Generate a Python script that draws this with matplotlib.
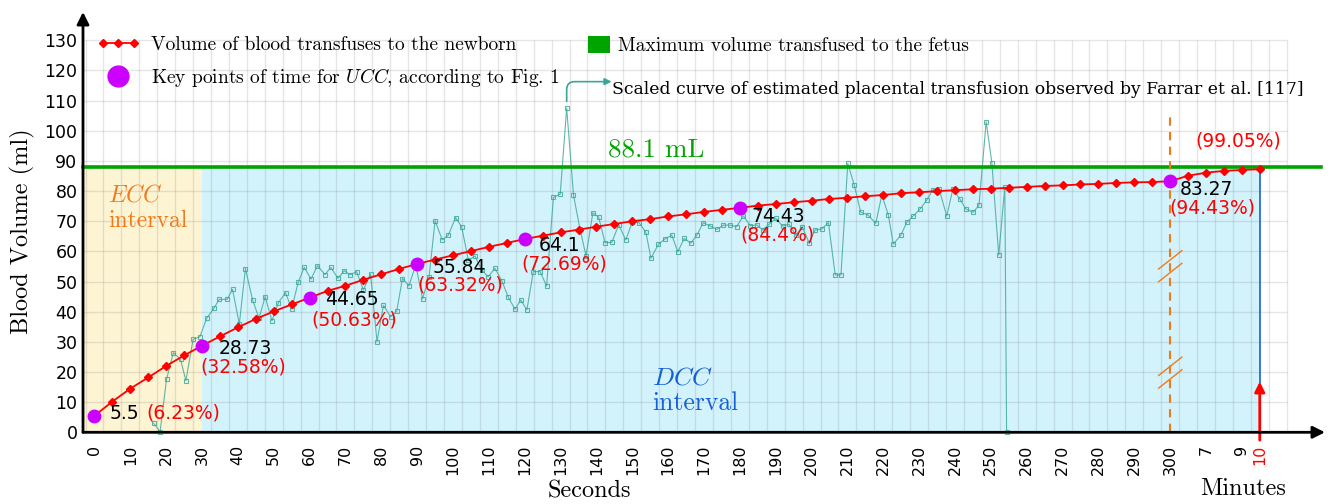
import numpy as np
import matplotlib.pyplot as plt
from matplotlib.lines import Line2D
from matplotlib.patches import Patch
from matplotlib.legend_handler import HandlerLine2D

plt.rcParams['mathtext.fontset'] = 'cm'

# x axis is in seconds up to 300, then 310 -> 7 min, 320 -> 9 min, 325 -> 10 min
red_t = list(range(0, 330, 5))
red_v = [5.5, 10.2, 14.5, 18.2, 22.0, 25.5, 28.73, 31.8, 34.8, 37.6, 40.1, 42.4,
         44.65, 46.9, 48.6, 50.6, 52.4, 54.2, 55.84, 57.3, 58.7, 60.1, 61.5, 62.8,
         64.1, 65.2, 66.3, 67.2, 68.2, 69.1, 70.0, 70.7, 71.6, 72.3, 73.1, 73.8,
         74.43, 75.2, 75.7, 76.3, 76.8, 77.4, 77.8, 78.3, 78.7, 79.3, 79.6, 80.0,
         80.3, 80.6, 80.8, 81.1, 81.4, 81.7, 81.9, 82.2, 82.4, 82.7, 82.9, 83.0,
         83.27, 85.1, 86.1, 86.7, 87.0, 87.26]

key_t = [0, 30, 60, 90, 120, 180, 300]
key_v = [5.5, 28.73, 44.65, 55.84, 64.1, 74.43, 83.27]
key_txt = ['5.5', '28.73', '44.65', '55.84', '64.1', '74.43', '83.27']
key_pct = ['(6.23%)', '(32.58%)', '(50.63%)', '(63.32%)', '(72.69%)', '(84.4%)', '(94.43%)']
end_pct = '(99.05%)'

# scaled placental transfusion curve (Farrar et al.)
teal_t = [16.5, 18.3, 20.1, 22.0, 24.0, 25.5, 27.5, 29.4, 31.3, 33.3, 34.8, 37.0,
          38.5, 40.4, 42.1, 44.1, 45.9, 47.6, 49.5, 51.3, 53.3, 55.0, 56.8, 58.5,
          60.4, 62.2, 64.3, 65.9, 67.9, 69.7, 71.3, 73.1, 75.0, 77.0, 78.8, 80.6,
          82.6, 84.3, 85.9, 87.7, 89.6, 91.5, 93.3, 95.0, 97.0, 98.7, 100.7, 102.4,
          104.3, 106.1, 108.0, 109.8, 111.7, 113.6, 115.4, 117.3, 118.9, 120.6, 122.4, 124.3,
          126.1, 128.0, 129.9, 131.7, 133.6, 135.4, 137.1, 139.0, 140.6, 142.4, 144.3, 146.2,
          148.2, 150.0, 151.9, 153.8, 155.2, 157.3, 159.1, 161.0, 162.7, 164.5, 166.3, 168.0,
          169.8, 171.7, 173.6, 175.4, 177.3, 179.1, 181.0, 182.9, 184.7, 186.4, 188.2, 190.0,
          191.9, 193.7, 195.6, 197.4, 199.3, 201.0, 202.8, 204.7, 206.6, 208.2, 210.1, 211.9,
          213.7, 215.7, 217.9, 219.6, 221.4, 222.8, 224.9, 226.6, 228.4, 230.3, 232.1, 233.8,
          235.6, 237.7, 239.4, 241.4, 243.0, 245.1, 246.7, 248.7, 250.3, 252.2, 253.9, 254.4]
teal_v = [3.0, 0.2, 17.6, 26.4, 24.2, 17.1, 30.8, 31.7, 37.8, 41.1, 44.1, 44.1,
          47.4, 35.9, 54.3, 43.9, 37.8, 45.0, 37.0, 43.0, 46.3, 40.9, 49.7, 54.7,
          50.8, 55.3, 52.3, 54.7, 51.1, 53.6, 52.2, 53.3, 47.2, 52.5, 30.1, 42.1,
          38.3, 40.2, 51.0, 48.6, 55.5, 44.3, 51.4, 70.2, 63.8, 65.4, 71.2, 68.2,
          57.0, 58.5, 53.8, 51.6, 54.4, 50.3, 44.8, 40.8, 43.9, 40.6, 53.3, 53.3,
          48.5, 77.9, 79.0, 107.5, 78.7, 67.5, 58.5, 72.8, 71.4, 62.9, 63.0, 68.8,
          63.8, 69.8, 69.5, 66.3, 57.7, 62.4, 64.1, 65.4, 59.9, 64.3, 62.7, 65.4,
          69.5, 68.4, 67.3, 68.7, 68.7, 68.2, 71.8, 68.5, 68.8, 67.1, 69.0, 71.0,
          68.4, 69.0, 65.4, 68.2, 62.9, 67.1, 67.4, 69.5, 52.2, 52.2, 89.2, 82.0,
          73.0, 72.1, 69.3, 78.7, 72.1, 62.4, 65.4, 69.7, 71.8, 74.1, 77.0, 80.4,
          80.6, 71.7, 80.6, 77.3, 74.1, 73.0, 75.3, 103.0, 89.2, 58.8, 81.3, 0.0]

max_volume = 88.1
ecc_end = 30
t_end = 325

tick_pos = list(range(0, 301, 10)) + [310, 320, 325]
tick_lab = [str(t) for t in range(0, 301, 10)] + ['7', '9', '10']

RED = '#ff0000'
PURPLE = '#cc00ff'
GREEN = '#00a400'
TEAL = '#3aa597'
ORANGE = '#f07a1a'
BLUE = '#1560d8'

fig = plt.figure(figsize=(13.43, 5.04), dpi=100)
ax = fig.add_axes([83 / 1343, 1 - 432.3 / 504, 1242 / 1343, 420.3 / 504])
ax.set_xlim(-3.2, 343.2)
ax.set_ylim(0, 139.4)

# intervals
ax.fill_between([-3.2, ecc_end], 0, max_volume, color='#fdf4d4', lw=0, zorder=0.5)
ax.fill_between([ecc_end, t_end], 0, max_volume, color='#d3f3fc', lw=0, zorder=0.5)

# grid
ax.vlines(np.arange(-2.5, 333, 5), 0, 130, color=(0.45, 0.45, 0.45, 0.18), lw=1, zorder=1)
ax.hlines(np.arange(10, 131, 10), -3.2, 332.5, color=(0.45, 0.45, 0.45, 0.18), lw=1, zorder=1)

# teal curve + arrow to its caption
ax.plot(teal_t, teal_v, color=TEAL, lw=0.8, marker='s', ms=3.5, mfc='none', mew=0.8,
        alpha=0.8, zorder=2, clip_on=False)
ax.annotate('', xy=(145.0, 116.3), xytext=(131.7, 108.8),
            arrowprops=dict(arrowstyle='-|>', color=TEAL, lw=1.2,
                            connectionstyle='angle,angleA=90,angleB=0,rad=8'))
ax.text(144.4, 113.7, 'Scaled curve of estimated placental transfusion observed by Farrar et al. [117]',
        family='DejaVu Serif', size=12.4, va='center', ha='left')

# max volume line
ax.plot([-3.2, 342], [max_volume, max_volume], color=GREEN, lw=2.6, zorder=3, clip_on=False)
ax.text(143.2, 93.6, '88.1 mL', color=GREEN, family='cmr10', size=19.5, va='center')

# 5 min / break marks
ax.plot([300, 300], [0, 105], color=ORANGE, lw=1.5, ls=(0, (4, 3)), zorder=3)
for yb in (55.1, 19.8):
    for dy in (-2.1, 2.1):
        ax.plot([296.8, 303.3], [yb + dy - 3.05, yb + dy + 3.05], color=ORANGE, lw=1, zorder=3)

# 10 min marker
ax.plot([t_end, t_end], [16.5, red_v[-1]], color=BLUE, lw=1.2, zorder=3)
ax.annotate('', xy=(t_end, 16.8), xytext=(t_end, -2.6), annotation_clip=False,
            arrowprops=dict(arrowstyle='-|>', color=RED, lw=2, mutation_scale=15,
                            shrinkA=0, shrinkB=0))

# volume curve
ax.plot(red_t, red_v, color=RED, lw=1.3, marker='D', ms=4, zorder=4)
ax.plot(key_t, key_v, 'o', color=PURPLE, ms=9, zorder=5)

lab_xy = [(4.3, 6.1), (34.7, 27.8), (64.3, 43.9), (94.3, 54.5), (123.8, 62.0), (183.3, 71.6), (302.6, 80.4)]
pct_xy = [(14.4, 6.4), (29.4, 21.7), (60.4, 37.2), (90.0, 48.9), (119.2, 55.8), (180.2, 65.4), (299.8, 74.4)]
for s, (x, y) in zip(key_txt, lab_xy):
    ax.text(x, y, s, size=13.5, va='center', ha='left', zorder=6)
for s, (x, y) in zip(key_pct, pct_xy):
    ax.text(x, y, s, size=13.5, va='center', ha='left', color=RED, zorder=6)
ax.text(307, 96.6, end_pct, size=13.5, va='center', ha='left', color=RED)

# interval labels
ax.text(3.9, 78.7, '$ECC$', color=ORANGE, family='cmr10', size=17, va='center')
ax.text(3.9, 70.0, 'interval', color=ORANGE, family='cmr10', size=17, va='center')
ax.text(155.6, 18.0, '$DCC$', color=BLUE, family='cmr10', size=18.5, va='center')
ax.text(155.6, 9.7, 'interval', color=BLUE, family='cmr10', size=18.5, va='center')

# axes with arrows
for s in ax.spines.values():
    s.set_visible(False)
ax.annotate('', xy=(0, 1), xytext=(0, 0), xycoords='axes fraction',
            arrowprops=dict(arrowstyle='-|>', color='k', lw=2, mutation_scale=18, shrinkA=0, shrinkB=0))
ax.annotate('', xy=(1, 0), xytext=(0, 0), xycoords='axes fraction',
            arrowprops=dict(arrowstyle='-|>', color='k', lw=2, mutation_scale=18, shrinkA=0, shrinkB=0))

ax.set_xticks(tick_pos)
ax.set_xticklabels(tick_lab, rotation=90, size=11.5)
ax.get_xticklabels()[-1].set_color(RED)
ax.set_yticks(range(0, 131, 10))
ax.set_yticklabels([str(v) for v in range(0, 131, 10)], size=12.5)
ax.tick_params(axis='x', length=0, pad=9)
ax.tick_params(axis='y', length=0, pad=4)

fig.text(22 / 1343, 1 - 231 / 504, 'Blood Volume (ml)', rotation=90, family='cmr10',
         size=17.5, ha='center', va='center')
fig.text(589 / 1343, 1 - 491 / 504, 'Seconds', family='cmr10', size=17.5, ha='center', va='center')
fig.text(1243 / 1343, 1 - 489 / 504, 'Minutes', family='cmr10', size=17.5, ha='center', va='center')

# legend
red_h = Line2D([], [], color=RED, lw=1.3, marker='D', ms=4)
key_h = Line2D([], [], color=PURPLE, ls='none', marker='o', ms=15)
leg1 = ax.legend([red_h, key_h],
                 ['Volume of blood transfuses to the newborn',
                  'Key points of time for $UCC$, according to Fig. 1'],
                 loc='upper left', bbox_to_anchor=(97 / 1343, 1 - 36 / 504),
                 bbox_transform=fig.transFigure, frameon=False,
                 prop={'family': 'cmr10', 'size': 14}, handlelength=2.2,
                 handletextpad=0.6, labelspacing=0.6, borderpad=0, borderaxespad=0,
                 numpoints=3, handler_map={key_h: HandlerLine2D(numpoints=1)})
ax.add_artist(leg1)
ax.legend([Patch(facecolor=GREEN)], ['Maximum volume transfused to the fetus'],
          loc='upper left', bbox_to_anchor=(588 / 1343, 1 - 36 / 504),
          bbox_transform=fig.transFigure, frameon=False,
          prop={'family': 'cmr10', 'size': 14}, handlelength=1.13, handleheight=0.93,
          handletextpad=0.4, borderpad=0, borderaxespad=0)

fig.savefig('out.png', dpi=100)
